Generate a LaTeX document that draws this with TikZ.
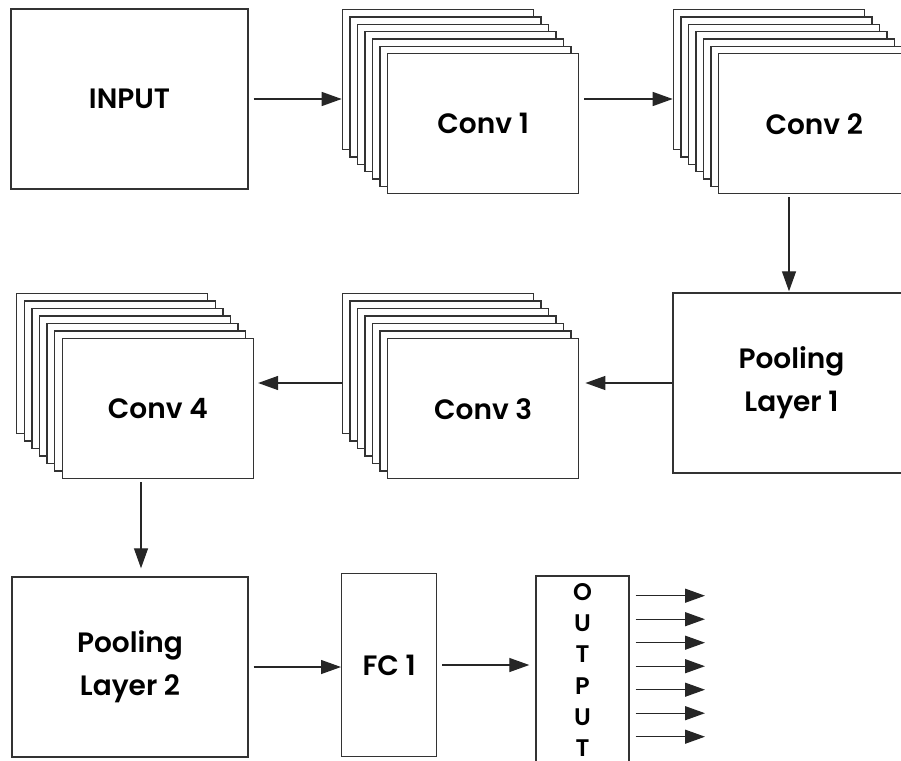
\documentclass[tikz,border=0pt]{standalone}
\usepackage{fontspec}
\setmainfont{Poppins}[BoldFont={Poppins SemiBold}]
\usetikzlibrary{positioning, arrows.meta}

\begin{document}
\begin{tikzpicture}[
    x=1pt, y=-1pt,
    font=\fontsize{28}{43}\selectfont\bfseries,
    box/.style={
        draw=black!80, line width=1.4pt, fill=white,
        inner sep=0pt, align=center
    },
    layer/.style={
        box, anchor=north west,
        minimum width=191pt, minimum height=140pt
    },
    arr/.style={-{Triangle[length=20pt, width=14pt]}, line width=1.3pt, draw=black!85}
]
\useasboundingbox (0,0) rectangle (901,760);

% Input
\node[box, minimum width=237pt, minimum height=180pt] (input) at (129.5,99) {INPUT};

% Conv 1 (stack of feature maps)
\foreach \i in {0,...,5}
    \node[layer] (conv1-\i) at (341.7+7.55*\i, 9+7.35*\i) {};
\node[layer] (conv1) at (387,53) {Conv 1};

% Conv 2
\foreach \i in {0,...,5}
    \node[layer] (conv2-\i) at (672.7+7.55*\i, 9+7.35*\i) {};
\node[layer] (conv2) at (718,53) {Conv 2};

% Pooling 1
\node[box, minimum width=237pt, minimum height=180pt] (pool1) at (791.5,383) {Pooling\\Layer 1};

% Conv 3
\foreach \i in {0,...,5}
    \node[layer] (conv3-\i) at (341.7+7.55*\i, 292.7+7.55*\i) {};
\node[layer] (conv3) at (387,338) {Conv 3};

% Conv 4
\foreach \i in {0,...,5}
    \node[layer] (conv4-\i) at (16+7.6*\i, 292.7+7.55*\i) {};
\node[layer] (conv4) at (61.7,338) {Conv 4};

% Pooling 2
\node[box, minimum width=236pt, minimum height=180pt] (pool2) at (130,667) {Pooling\\Layer 2};

% FC 1
\node[box, minimum width=95pt, minimum height=183pt] (fc1) at (389.2,665) {FC 1};

% Output
\node[box, minimum width=93pt, minimum height=188pt,
      font=\fontsize{24}{31.3}\selectfont\bfseries] (output) at (582.5,670) {O\\U\\T\\P\\U\\T};

% Arrows between layers
\draw[arr, shorten <=5pt] (input.east) -- (input.east -| conv1-0.west);
\draw[arr, shorten <=5pt] (input.east -| conv1.east) -- (input.east -| conv2-0.west);
\draw[arr, shorten <=3pt, shorten >=1pt] ([xshift=-2.5pt]pool1.north |- conv2.south) -- ([xshift=-2.5pt]pool1.north);
\draw[arr, shorten >=6pt] (pool1.west) -- (pool1.west -| conv3.east);
\draw[arr, shorten >=4pt] (pool1.west -| conv3-0.west) -- (pool1.west -| conv4.east);
\draw[arr, shorten <=3pt, shorten >=8pt] ([xshift=11pt]pool2.north |- conv4.south) -- ([xshift=11pt]pool2.north);
\draw[arr, shorten <=5pt] (pool2.east) -- (pool2.east -| fc1.west);
\draw[arr, shorten <=5pt, shorten >=6pt] (fc1.east) -- (fc1.east -| output.west);

% Output units
\foreach \k in {0,...,6} {
    \coordinate (out\k) at (705, 595.7+23.5*\k);
    \draw[arr, shorten <=6pt] (output.east |- out\k) -- (out\k);
}

\end{tikzpicture}
\end{document}
